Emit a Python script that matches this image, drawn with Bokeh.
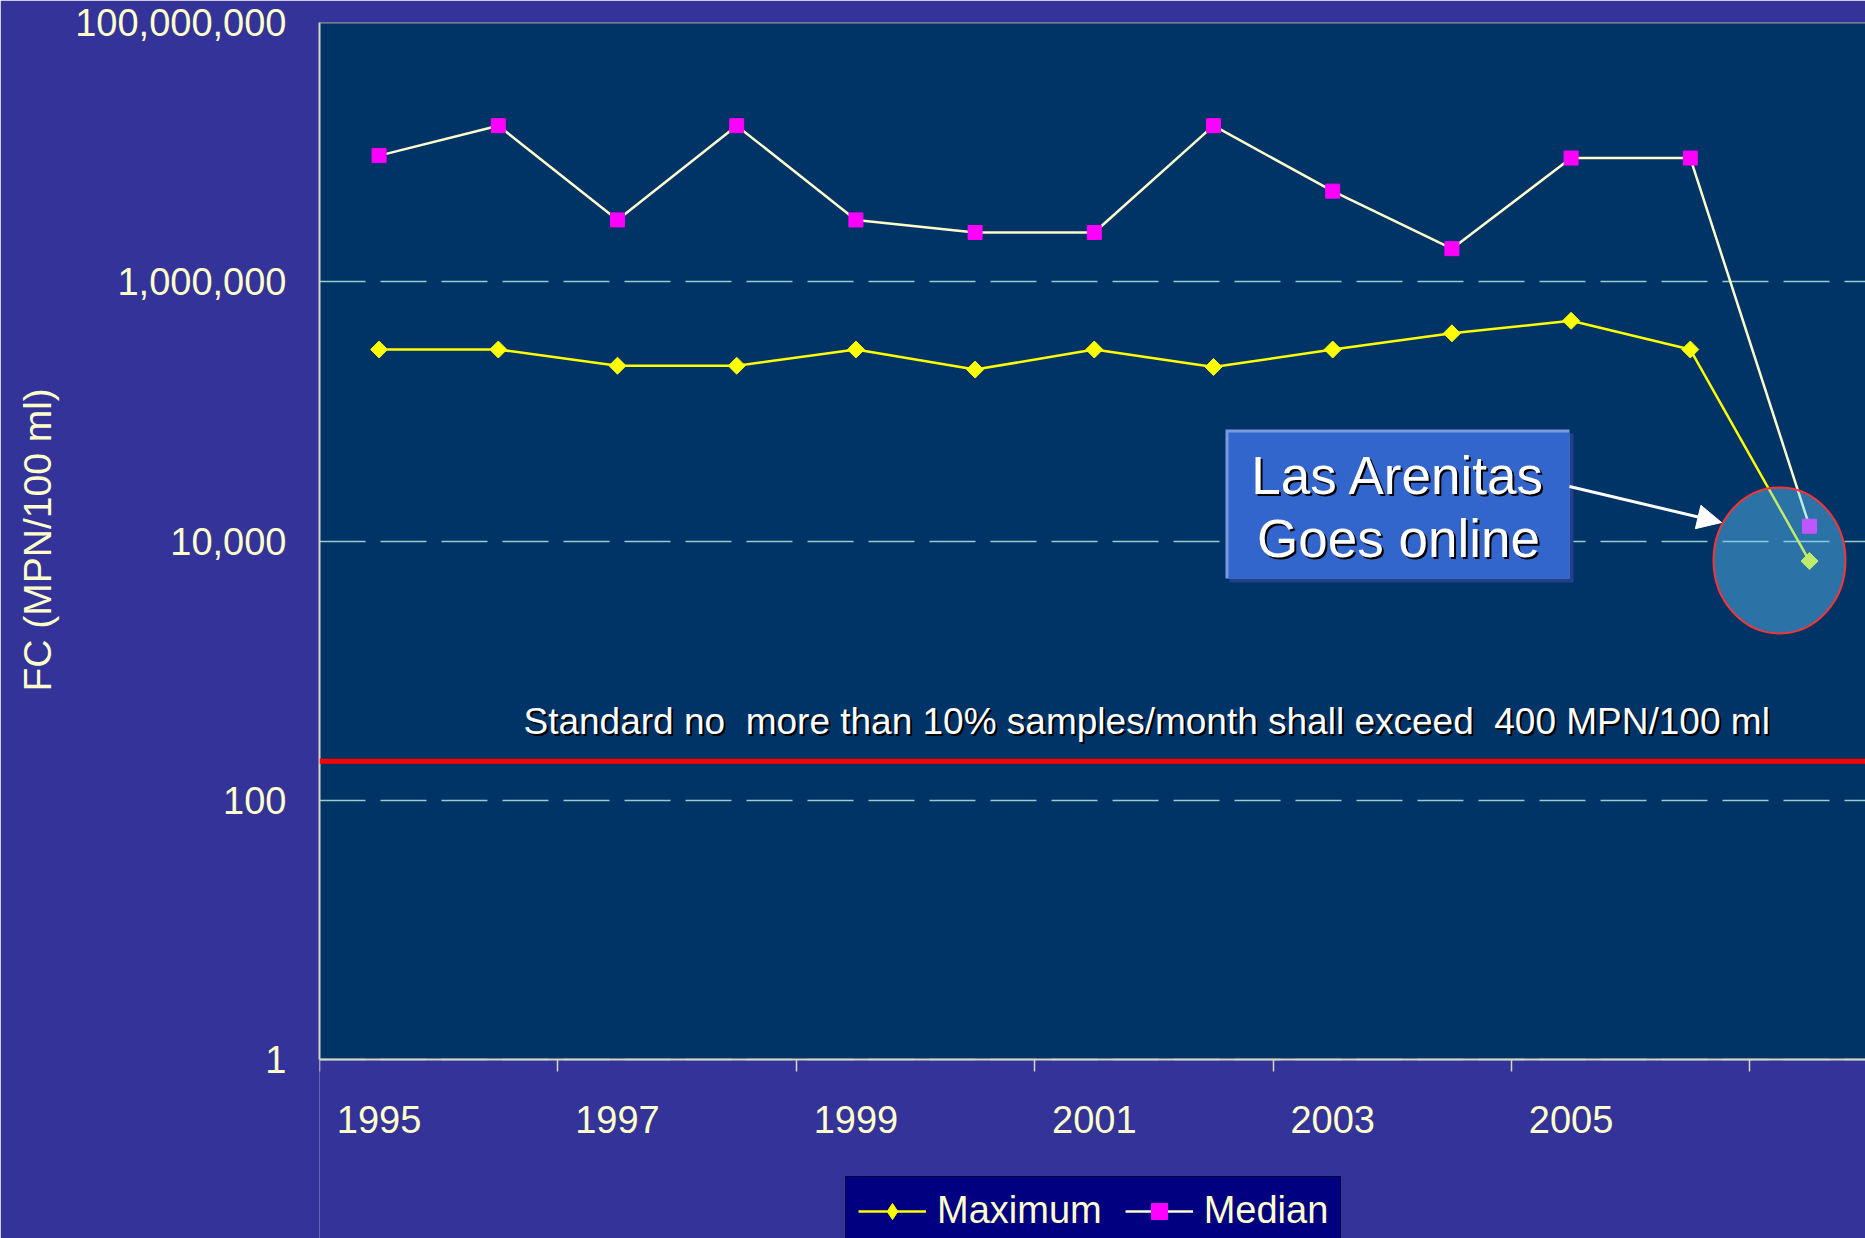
import math
from bokeh.plotting import figure
from bokeh.models import (Range1d, FixedTicker, NumeralTickFormatter, Span, Label,
                          Arrow, NormalHead, Legend, LegendItem, Title)
from bokeh.embed import file_html
from bokeh.resources import INLINE

# ---------------- data ----------------
years = [1995, 1996, 1997, 1998, 1999, 2000, 2001, 2002, 2003, 2004, 2005, 2006, 2007]
maximum = [300000, 300000, 225000, 225000, 300000, 210000, 300000, 220000, 300000,
           400000, 500000, 300000, 7000]
median = [9400000, 16000000, 3000000, 16000000, 3000000, 2400000, 2400000, 16000000,
          5000000, 1800000, 9000000, 9000000, 13000]
y_ticks = [1, 100, 10000, 1000000, 100000000]
x_label_years = [1995, 1997, 1999, 2001, 2003, 2005]
x_tick_marks = [1994.5, 1996.5, 1998.5, 2000.5, 2002.5, 2004.5, 2006.5]
standard_level = 200
standard_text = "Standard no  more than 10% samples/month shall exceed  400 MPN/100 ml"
callout_lines = ["Las Arenitas", "Goes online"]
y_title = "FC (MPN/100 ml)"
series_names = ["Maximum", "Median"]

# ---------------- style ----------------
FONT = "Liberation Sans"
CREAM = "#FFFFCC"
AXIS_COL = "#D8D8C0"
OUTER = "#333399"
INNER = "#003366"
YELLOW = "#FFFF00"
MAGENTA = "#FF00FF"

W, H = 1865, 1238
# frame geometry (pixels) used only to place annotations
FRAME_L, FRAME_T, FRAME_B = 319, 22, 1059
PX_PER_YEAR = 119.2
PX_PER_DECADE = (FRAME_B - FRAME_T) / 8.0


def xd(px):
    return 1994.5 + (px - FRAME_L) / PX_PER_YEAR


def yd(py):
    return 10 ** ((FRAME_B - py) / PX_PER_DECADE)


X0, X1 = 1994.5, xd(W)
Y_TOP = 1e8
Y_AXIS_AT = 1
Y_LOW = yd(H)   # plotting region continues below the x axis to hold the legend

p = figure(width=W, height=H, y_axis_type="log",
           x_range=Range1d(X0, X1), y_range=Range1d(Y_LOW, Y_TOP),
           output_backend="svg", toolbar_location=None,
           min_border_left=FRAME_L, min_border_right=0, min_border_top=FRAME_T,
           min_border_bottom=0)

p.background_fill_color = OUTER
p.border_fill_color = OUTER
p.outline_line_color = None

# dark plot area (between y = 1 and the top)
p.quad(left=[X0], right=[X1], bottom=[Y_AXIS_AT], top=[Y_TOP],
       fill_color=INNER, line_color=None, level="underlay")

# x axis (drawn at y = 1, takes no panel space)
xa = p.xaxis[0]
xa.fixed_location = Y_AXIS_AT
xa.ticker = FixedTicker(ticks=x_label_years, minor_ticks=x_tick_marks)
xa.major_tick_line_color = None
xa.major_tick_out = 0
xa.major_tick_in = 0
xa.minor_tick_out = 12
xa.minor_tick_in = 0
xa.minor_tick_line_color = AXIS_COL
xa.minor_tick_line_width = 1.5
xa.axis_line_color = AXIS_COL
xa.axis_line_width = 2
xa.major_label_text_font = FONT
xa.major_label_text_font_size = "38px"
xa.major_label_text_color = CREAM
xa.major_label_standoff = 34

# y axis
ya = p.yaxis[0]
yticker = FixedTicker(ticks=y_ticks, minor_ticks=[])
ya.ticker = yticker
ya.bounds = (Y_AXIS_AT, Y_TOP)
ya.formatter = NumeralTickFormatter(format="0,0")
ya.major_tick_out = 0
ya.major_tick_in = 0
ya.major_tick_line_color = None
ya.minor_tick_line_color = None
ya.axis_line_color = AXIS_COL
ya.axis_line_width = 2
ya.major_label_text_font = FONT
ya.major_label_text_font_size = "38px"
ya.major_label_text_color = CREAM
ya.major_label_standoff = 33

# y-axis title: starts (bottom end) so that it is centred on the axis span
TITLE_START_Y = 691
p.add_layout(Title(text=y_title, align="left", offset=H - TITLE_START_Y,
                   vertical_align="middle",
                   text_font=FONT, text_font_size="39px", text_font_style="normal",
                   text_color=CREAM, standoff=26), "left")

# grid
p.xgrid.grid_line_color = None
p.ygrid.ticker = yticker
p.ygrid.grid_line_color = "#99CCCC"
p.ygrid.grid_line_width = 1.5
p.ygrid.grid_line_dash = "46 15"
p.ygrid.minor_grid_line_color = None

# top border of the plot area
p.add_layout(Span(location=Y_TOP, dimension="width", line_color="#9A9A9A", line_width=2))

# series
r_max_l = p.line(years, maximum, line_color=YELLOW, line_width=2.5)
r_max_m = p.scatter(years, maximum, marker="square", angle=math.pi / 4, size=12,
                    fill_color=YELLOW, line_color=YELLOW, line_width=1)
r_max_key = p.scatter(years, maximum, marker="diamond", size=18, fill_color=YELLOW,
                      line_color=YELLOW, line_width=1, visible=False)
r_med_l = p.line(years, median, line_color=CREAM, line_width=2.5)
r_med_m = p.scatter(years, median, marker="square", size=14, fill_color=MAGENTA,
                    line_color=MAGENTA, line_width=1)

# highlight ellipse (semi-transparent)
p.ellipse(x=[xd(1779)], y=[yd(560)], width=132, height=146,
          width_units="screen", height_units="screen",
          fill_color="#66CCFF", fill_alpha=0.42, line_color="#FF3333", line_width=2)

# callout box
p.quad(left=[xd(1229)], right=[xd(1573)], top=[yd(433)], bottom=[yd(582)],
       fill_color="#23408C", line_color=None)
p.quad(left=[xd(1225)], right=[xd(1569)], top=[yd(429)], bottom=[yd(578)],
       fill_color="#7A9AE0", line_color=None)
p.quad(left=[xd(1228)], right=[xd(1569)], top=[yd(432)], bottom=[yd(578)],
       fill_color="#3366CC", line_color=None)

for line_text, cy in zip(callout_lines, [475, 538]):
    p.add_layout(Label(x=xd(1398), y=yd(cy), text=line_text, text_align="center",
                       text_baseline="middle", text_font=FONT, text_font_size="53px",
                       text_color="black", x_offset=2, y_offset=-2))
    p.add_layout(Label(x=xd(1398), y=yd(cy), text=line_text, text_align="center",
                       text_baseline="middle", text_font=FONT, text_font_size="53px",
                       text_color="white"))

p.add_layout(Arrow(end=NormalHead(size=24, fill_color="white", line_color="white"),
                   x_start=xd(1569), y_start=yd(486), x_end=xd(1721), y_end=yd(522),
                   line_color="white", line_width=3))

# standard line and text (non-breaking space keeps the double spacing visible)
p.add_layout(Span(location=standard_level, dimension="width", line_color="#FF0000",
                  line_width=5))
shown_standard = standard_text.replace("  ", " \u00a0")
p.add_layout(Label(x=xd(523), y=yd(721), text=shown_standard, text_align="left",
                   text_baseline="middle", text_font=FONT, text_font_size="37px",
                   text_color="black", x_offset=2, y_offset=-2))
p.add_layout(Label(x=xd(523), y=yd(721), text=shown_standard, text_align="left",
                   text_baseline="middle", text_font=FONT, text_font_size="37px",
                   text_color="white"))

# legend (inside the extended plotting region, below the axis)
lg = Legend(items=[LegendItem(label=series_names[0], renderers=[r_max_l, r_max_key]),
                   LegendItem(label=series_names[1], renderers=[r_med_l, r_med_m])],
            location=(845 - FRAME_L, -7), orientation="horizontal")
lg.background_fill_color = "#000080"
lg.background_fill_alpha = 1
lg.border_line_color = "black"
lg.border_line_width = 1.5
lg.label_text_font = FONT
lg.label_text_font_size = "38px"
lg.label_text_color = CREAM
lg.glyph_width = 68
lg.glyph_height = 40
lg.label_standoff = 11
lg.spacing = 23
lg.padding = 12
lg.margin = 0
p.add_layout(lg)

open("out.html", "w").write(file_html(p, INLINE))
